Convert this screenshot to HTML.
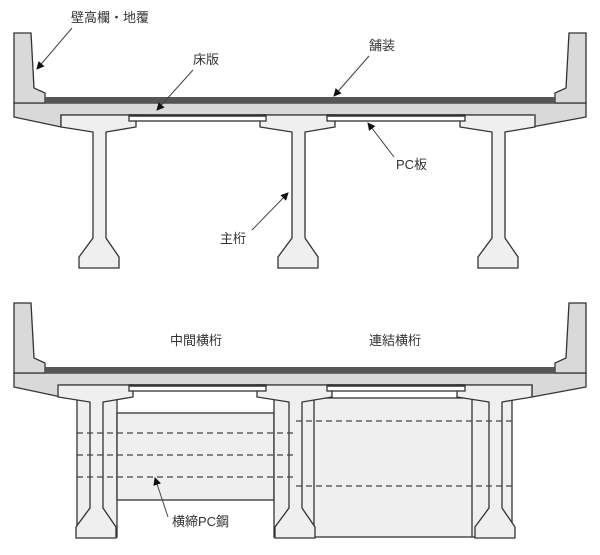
<!DOCTYPE html>
<html><head><meta charset="utf-8"><style>
html,body{margin:0;padding:0;background:#fff}
svg{display:block}
text{font-family:"Liberation Sans","Noto Sans CJK JP",sans-serif;font-size:13px;fill:#333}
</style></head><body>
<svg width="600" height="555" viewBox="0 0 600 555" xmlns="http://www.w3.org/2000/svg">
<defs>
<marker id="ah" markerWidth="8" markerHeight="8" refX="7" refY="4" orient="auto" markerUnits="userSpaceOnUse">
<path d="M0,0 L8,4 L0,8 Z" fill="#111"/></marker>
<g id="deck" stroke="#333" stroke-width="1.3">
<polygon points="14,103 586,103 586,117 532,127 532,115 61,115 61,127 14,117" fill="#d9d9d9"/>
<polygon points="14,33 31,33 34,88 45,93 45,103 14,103" fill="#d9d9d9"/>
<polygon points="586,33 569,33 566,88 555,93 555,103 586,103" fill="#d9d9d9"/>
<rect x="45" y="97" width="510" height="6" fill="#555" stroke="none"/>
</g>
<polygon id="gird" points="61,115 136,115 136,127 106,132 106,238 119,257 119,268 79,268 79,257 93,238 93,132 61,127" fill="#efefef" stroke="#333" stroke-width="1.3"/>
<g id="plates" stroke="#333" stroke-width="1.3">
<rect x="129" y="115" width="137" height="6" fill="#fff"/>
<line x1="129" y1="115.5" x2="266" y2="115.5" stroke-width="2.5"/>
<rect x="327" y="115" width="138" height="6" fill="#fff"/>
<line x1="327" y1="115.5" x2="465" y2="115.5" stroke-width="2.5"/>
</g>
</defs>

<!-- top -->
<use href="#deck"/>
<use href="#gird"/>
<use href="#gird" transform="translate(199,0)"/>
<use href="#gird" transform="translate(399,0)"/>
<use href="#plates"/>

<!-- bottom -->
<g transform="translate(0,270)">
<g fill="#efefef" stroke="#333" stroke-width="1.3">
<rect x="77" y="128" width="40" height="139"/>
<rect x="117" y="143" width="157" height="87"/>
<rect x="274" y="128" width="238" height="139"/>
<line x1="314" y1="128" x2="314" y2="267"/>
<line x1="472" y1="128" x2="472" y2="267"/>
</g>
<use href="#deck"/>
<use href="#gird" transform="translate(-3,0)"/>
<use href="#gird" transform="translate(196,0)"/>
<use href="#gird" transform="translate(396,0)"/>
<use href="#plates"/>
<g stroke="#444" stroke-width="1.3" stroke-dasharray="6,4">
<line x1="77" y1="163" x2="293" y2="163"/>
<line x1="77" y1="185" x2="293" y2="185"/>
<line x1="77" y1="207" x2="293" y2="207"/>
<line x1="296" y1="151" x2="512" y2="151"/>
<line x1="296" y1="216" x2="512" y2="216"/>
</g>
</g>

<!-- labels -->
<text x="71" y="22">壁高欄・地覆</text>
<text x="193" y="64">床版</text>
<text x="369" y="50">舗装</text>
<text x="396" y="169">PC板</text>
<text x="220" y="243">主桁</text>
<text x="170" y="345">中間横桁</text>
<text x="369" y="345">連結横桁</text>
<text x="172" y="526">横締PC鋼</text>
<g stroke="#444" stroke-width="1" fill="none" marker-end="url(#ah)">
<line x1="72" y1="28" x2="37" y2="69"/>
<line x1="193" y1="70" x2="157" y2="110"/>
<line x1="369" y1="56" x2="334" y2="96"/>
<line x1="394" y1="157" x2="368" y2="123"/>
<line x1="252" y1="230" x2="288" y2="193"/>
<line x1="168" y1="517" x2="155" y2="478"/>
</g>
</svg>
</body></html>
